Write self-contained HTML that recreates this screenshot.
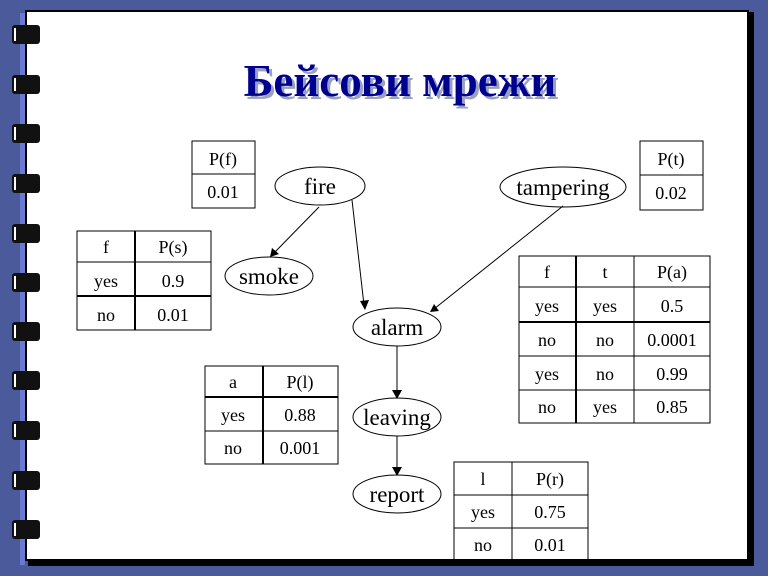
<!DOCTYPE html>
<html><head><meta charset="utf-8"><style>
html,body{margin:0;padding:0;background:#4a5a9a;}
svg{display:block;}
text{font-family:"Liberation Serif",serif;fill:#000;}
</style></head><body>
<svg width="768" height="576" viewBox="0 0 768 576" xmlns="http://www.w3.org/2000/svg">
<rect width="768" height="576" fill="#4a5a9a"/>
<rect x="20" y="13" width="5" height="552" fill="#6a7ad0"/>
<rect x="28" y="12" width="726" height="554" fill="#000"/>
<rect x="25" y="10" width="724" height="551" fill="#000"/>
<rect x="27" y="12" width="720" height="547" fill="#fff"/>
<g fill="#111">
<rect x="12" y="25" width="28" height="19" rx="3"/>
<rect x="12" y="75" width="28" height="19" rx="3"/>
<rect x="12" y="124" width="28" height="19" rx="3"/>
<rect x="12" y="174" width="28" height="19" rx="3"/>
<rect x="12" y="224" width="28" height="19" rx="3"/>
<rect x="12" y="273" width="28" height="19" rx="3"/>
<rect x="12" y="322" width="28" height="19" rx="3"/>
<rect x="12" y="371" width="28" height="19" rx="3"/>
<rect x="12" y="421" width="28" height="19" rx="3"/>
<rect x="12" y="471" width="28" height="19" rx="3"/>
<rect x="12" y="520" width="28" height="19" rx="3"/>
</g>
<g fill="#fff">
<rect x="14" y="28" width="2" height="13"/><rect x="14" y="78" width="2" height="13"/><rect x="14" y="127" width="2" height="13"/><rect x="14" y="177" width="2" height="13"/><rect x="14" y="227" width="2" height="13"/><rect x="14" y="276" width="2" height="13"/><rect x="14" y="325" width="2" height="13"/><rect x="14" y="374" width="2" height="13"/><rect x="14" y="424" width="2" height="13"/><rect x="14" y="474" width="2" height="13"/><rect x="14" y="523" width="2" height="13"/>
</g>
<text x="403" y="99" font-size="45" font-weight="bold" text-anchor="middle" style="fill:#9aa0c0">Бейсови мрежи</text>
<text x="400" y="96" font-size="45" font-weight="bold" text-anchor="middle" style="fill:#000090">Бейсови мрежи</text>

<g stroke="#000" fill="none" stroke-width="1">
<ellipse cx="320" cy="186" rx="45" ry="19"/>
<ellipse cx="563" cy="187" rx="63" ry="20"/>
<ellipse cx="269" cy="276" rx="44" ry="19"/>
<ellipse cx="397" cy="327" rx="44" ry="19"/>
<ellipse cx="397" cy="417" rx="44" ry="19"/>
<ellipse cx="397" cy="494" rx="44" ry="19"/>
<line x1="319" y1="207" x2="274" y2="253"/>
<line x1="352" y1="200" x2="364" y2="305"/>
<line x1="563" y1="206" x2="434" y2="309"/>
<line x1="397" y1="346" x2="397" y2="393"/>
<line x1="397" y1="436" x2="397" y2="470"/>
<rect x="192" y="141" width="63" height="67"/><line x1="192" y1="174" x2="255" y2="174"/>
<rect x="640" y="141" width="63" height="69"/><line x1="640" y1="175" x2="703" y2="175"/>
<rect x="77" y="231" width="134" height="99"/><line x1="135" y1="231" x2="135" y2="330" stroke-width="2"/><line x1="77" y1="262" x2="211" y2="262"/><line x1="77" y1="296" x2="211" y2="296" stroke-width="2"/>
<rect x="519" y="256" width="191" height="167"/><line x1="576" y1="256" x2="576" y2="423" stroke-width="2"/><line x1="634" y1="256" x2="634" y2="423"/>
<line x1="519" y1="287" x2="710" y2="287"/><line x1="519" y1="322" x2="710" y2="322" stroke-width="2"/><line x1="519" y1="356" x2="710" y2="356"/><line x1="519" y1="390" x2="710" y2="390"/>
<rect x="205" y="366" width="133" height="98"/><line x1="263" y1="366" x2="263" y2="464" stroke-width="2"/><line x1="205" y1="397" x2="338" y2="397" stroke-width="2"/><line x1="205" y1="431" x2="338" y2="431"/>
<rect x="454" y="462" width="134" height="98"/><line x1="512" y1="462" x2="512" y2="560"/><line x1="454" y1="495" x2="588" y2="495"/><line x1="454" y1="528" x2="588" y2="528"/>
</g>
<g fill="#000">
<polygon points="270,257 272,248 279,254"/>
<polygon points="365,310 360,301 369,300"/>
<polygon points="430,312 434,304 439,311"/>
<polygon points="397,399 392,390 402,390"/>
<polygon points="397,476 392,467 402,467"/>
</g>
<g font-size="23" text-anchor="middle">
<text x="320" y="194">fire</text>
<text x="563" y="195">tampering</text>
<text x="269" y="284">smoke</text>
<text x="397" y="335">alarm</text>
<text x="397" y="425">leaving</text>
<text x="397" y="502">report</text>
</g>
<g font-size="18" text-anchor="middle">
<text x="223" y="165">P(f)</text><text x="223" y="198">0.01</text>
<text x="671" y="165">P(t)</text><text x="671" y="199">0.02</text>
<text x="106" y="253">f</text><text x="173" y="253">P(s)</text>
<text x="106" y="287">yes</text><text x="173" y="287">0.9</text>
<text x="106" y="321">no</text><text x="173" y="321">0.01</text>
<text x="547" y="278">f</text><text x="605" y="278">t</text><text x="672" y="278">P(a)</text>
<text x="547" y="312">yes</text><text x="605" y="312">yes</text><text x="672" y="312">0.5</text>
<text x="547" y="346">no</text><text x="605" y="346">no</text><text x="672" y="346">0.0001</text>
<text x="547" y="380">yes</text><text x="605" y="380">no</text><text x="672" y="380">0.99</text>
<text x="547" y="413">no</text><text x="605" y="413">yes</text><text x="672" y="413">0.85</text>
<text x="233" y="388">a</text><text x="300" y="388">P(l)</text>
<text x="233" y="421">yes</text><text x="300" y="421">0.88</text>
<text x="233" y="454">no</text><text x="300" y="454">0.001</text>
<text x="483" y="485">l</text><text x="550" y="485">P(r)</text>
<text x="483" y="518">yes</text><text x="550" y="518">0.75</text>
<text x="483" y="551">no</text><text x="550" y="551">0.01</text>
</g>
</svg>
</body></html>
